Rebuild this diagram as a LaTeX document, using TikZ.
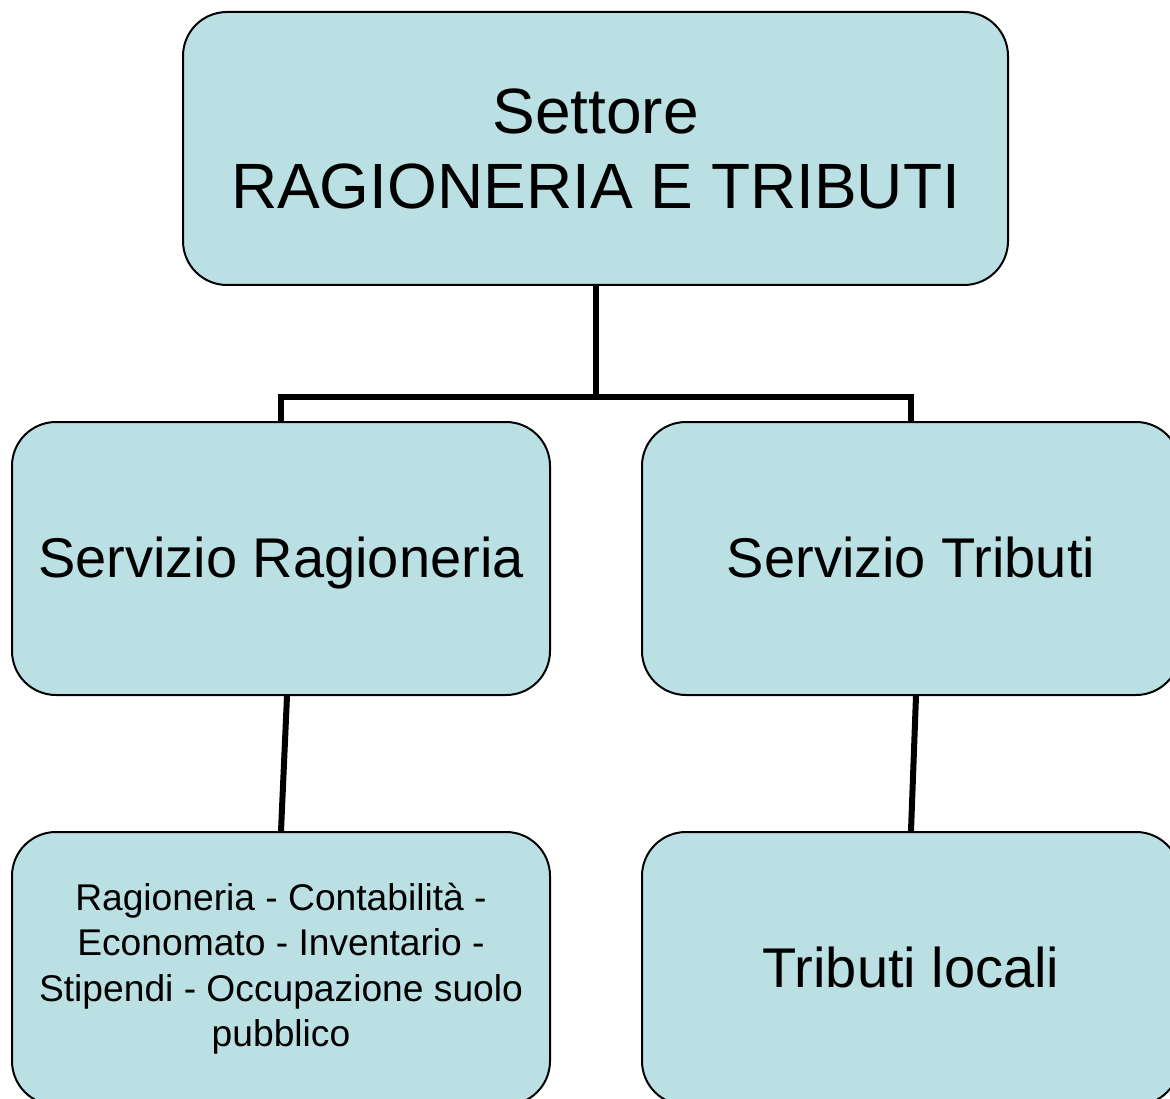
\documentclass[tikz,border=0pt]{standalone}
\usepackage{fontspec}
\setmainfont{Liberation Sans}
\usetikzlibrary{calc}
\definecolor{boxfill}{RGB}{187,224,227}
\tikzset{
  orgbox/.style={draw=black, line width=2pt, fill=boxfill, rounded corners=44pt,
    minimum height=273pt, inner sep=0pt, align=center},
  wide/.style={minimum width=825pt},
  narrow/.style={minimum width=538pt},
  mid/.style={font=\fontsize{56pt}{66pt}\selectfont, text height=40pt, text depth=3pt},
  small/.style={font=\fontsize{37.2pt}{45.5pt}\selectfont},
  big/.style={font=\fontsize{64pt}{75pt}\selectfont},
  conn/.style={line width=6pt, draw=black}
}
\begin{document}
\begin{tikzpicture}[x=1pt,y=-1pt]
\useasboundingbox (0,0) rectangle (1170,1099);
\node[orgbox,wide,big] (top) at (595.5,148.5) {Settore\\RAGIONERIA E TRIBUTI};
\node[orgbox,narrow,mid] (ml) at (281,558.5) {Servizio Ragioneria};
\node[orgbox,narrow,mid] (mr) at (911,558.5) {Servizio Tributi};
\node[orgbox,narrow,small] (bl) at (281,968.5) {Ragioneria - Contabilità -\\Economato - Inventario -\\Stipendi - Occupazione suolo\\pubblico};
\node[orgbox,narrow,mid] (br) at (911,968.5) {Tributi locali};
\coordinate (bus) at (595.5,397);
\draw[conn] (top.south) -- (bus);
\draw[conn] (ml.north) -- (ml.north |- bus) -- (mr.north |- bus) -- (mr.north);
\draw[conn] ($(ml.south)+(6,0)$) -- (bl.north);
\draw[conn] ($(mr.south)+(5,0)$) -- (br.north);
\end{tikzpicture}
\end{document}
